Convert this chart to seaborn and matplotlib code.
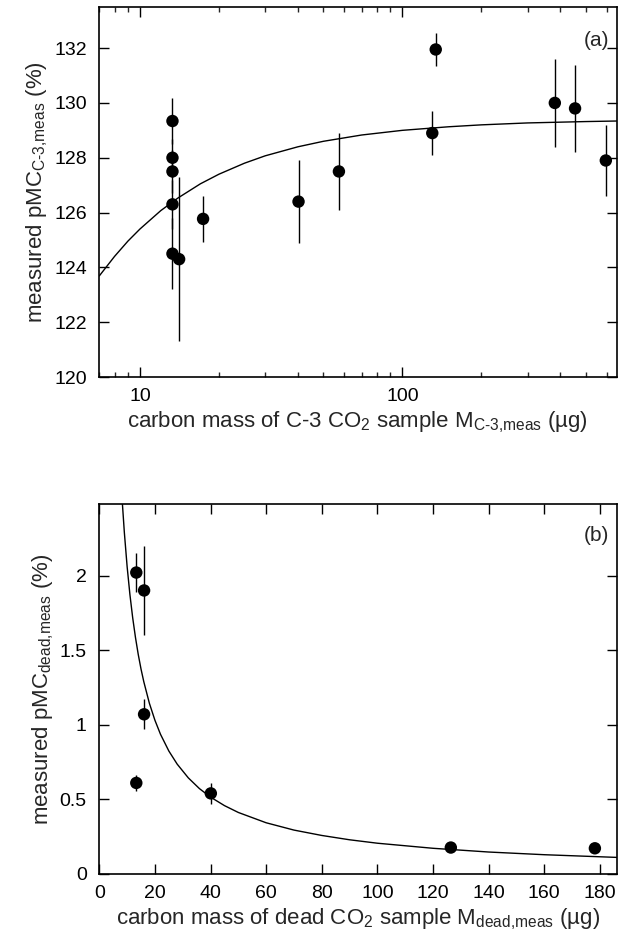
import numpy as np
import pandas as pd
import seaborn as sns
import matplotlib.pyplot as plt
from matplotlib.ticker import FixedLocator, FuncFormatter

# panel (a): C-3 CO2 samples
c3_mass = [13.3, 13.3, 13.3, 13.3, 13.3, 14.1, 17.4, 40.2, 57.3, 130, 134, 381, 455, 596]
c3_pmc = [129.34, 128.0, 127.5, 126.3, 124.5, 124.3, 125.77, 126.4, 127.5, 128.9, 131.95, 130.0, 129.8, 127.9]
c3_err = [0.85, 0.7, 0.8, 0.9, 1.3, 3.0, 0.85, 1.5, 1.4, 0.8, 0.6, 1.6, 1.6, 1.3]

# fitted curve (a)
fit_a_x = [7, 8, 9, 10, 12, 14, 17, 20, 25, 30, 40, 50, 70, 100, 150, 200, 300, 500, 655]
fit_a_y = [123.69, 124.4, 124.96, 125.4, 126.07, 126.54, 127.05, 127.4, 127.8, 128.07,
           128.4, 128.6, 128.83, 129.0, 129.13, 129.2, 129.27, 129.32, 129.34]

# panel (b): dead CO2 samples
dead_mass = [13.3, 16.1, 16.1, 13.3, 40.1, 126.4, 178.2]
dead_pmc = [2.02, 1.90, 1.07, 0.61, 0.54, 0.177, 0.172]
dead_err = [0.13, 0.30, 0.10, 0.055, 0.07, 0.0, 0.0]

# fitted curve (b)
fit_b_x = [8.3, 9, 10, 11, 12, 13, 14, 15, 16, 18, 20, 22, 25, 28, 32, 36, 40, 45, 50,
           60, 70, 80, 90, 100, 120, 140, 160, 186]
fit_b_y = [2.482, 2.289, 2.06, 1.873, 1.717, 1.585, 1.471, 1.373, 1.288, 1.144, 1.03, 0.936,
           0.824, 0.736, 0.644, 0.572, 0.515, 0.458, 0.412, 0.343, 0.294, 0.258, 0.229, 0.206,
           0.172, 0.147, 0.129, 0.111]

sns.set_style("ticks")
plt.rcParams['font.family'] = ['Liberation Sans', 'DejaVu Sans']
plt.rcParams['mathtext.fontset'] = 'custom'
plt.rcParams['mathtext.rm'] = 'Liberation Sans'
plt.rcParams['mathtext.it'] = 'Liberation Sans'
plt.rcParams['mathtext.default'] = 'regular'

fs = 14
lfs = 16
fig = plt.figure(figsize=(6.18, 9.44), dpi=100)
ax1 = fig.add_axes([0.1607, 0.6006, 0.837, 0.392])
ax2 = fig.add_axes([0.1607, 0.0742, 0.837, 0.392])

df_a = pd.DataFrame({"m": c3_mass, "p": c3_pmc})
df_fa = pd.DataFrame({"m": fit_a_x, "p": fit_a_y})
df_b = pd.DataFrame({"m": dead_mass, "p": dead_pmc})
df_fb = pd.DataFrame({"m": fit_b_x, "p": fit_b_y})

# --- (a)
ax1.set_xscale("log")
ax1.errorbar(c3_mass, c3_pmc, yerr=c3_err, fmt="none", ecolor="black", elinewidth=1.0, capsize=0)
sns.lineplot(data=df_fa, x="m", y="p", ax=ax1, color="black", lw=1.0, sort=False, estimator=None)
sns.scatterplot(data=df_a, x="m", y="p", ax=ax1, color="black", s=80, edgecolor="none", zorder=3)
ax1.set_xlim(7, 655)
ax1.set_ylim(120, 133.5)
ax1.xaxis.set_major_locator(FixedLocator([10, 100]))
ax1.xaxis.set_minor_locator(FixedLocator([7, 8, 9, 20, 30, 40, 50, 60, 70, 80, 90, 200, 300, 400, 500, 600]))
ax1.xaxis.set_major_formatter(FuncFormatter(lambda v, p: "%g" % v))
ax1.xaxis.set_minor_formatter(FuncFormatter(lambda v, p: ""))
ax1.set_yticks(np.arange(120, 133, 2))
ax1.set_xlabel(r"carbon mass of C-3 CO$_2$ sample M$_{\text{C-3,meas}}$ (µg)", fontsize=lfs, labelpad=3)
ax1.set_ylabel(r"measured pMC$_{\text{C-3,meas}}$ (%)", fontsize=lfs, labelpad=3)
ax1.text(0.985, 0.91, "(a)", transform=ax1.transAxes, ha="right", va="center", fontsize=15)

# --- (b)
ax2.errorbar(dead_mass, dead_pmc, yerr=dead_err, fmt="none", ecolor="black", elinewidth=1.0, capsize=0)
sns.lineplot(data=df_fb, x="m", y="p", ax=ax2, color="black", lw=1.0, sort=False, estimator=None)
sns.scatterplot(data=df_b, x="m", y="p", ax=ax2, color="black", s=80, edgecolor="none", zorder=3)
ax2.set_xlim(0, 186)
ax2.set_ylim(0, 2.48)
ax2.set_xticks(np.arange(0, 181, 20))
ax2.set_yticks([0, 0.5, 1, 1.5, 2])
ax2.yaxis.set_major_formatter(FuncFormatter(lambda v, p: "%g" % v))
ax2.set_xlabel(r"carbon mass of dead CO$_2$ sample M$_{\text{dead,meas}}$ (µg)", fontsize=lfs, labelpad=3)
ax2.set_ylabel(r"measured pMC$_{\text{dead,meas}}$ (%)", fontsize=lfs, labelpad=3)
ax2.text(0.985, 0.915, "(b)", transform=ax2.transAxes, ha="right", va="center", fontsize=15)

for ax in (ax1, ax2):
    for sp in ax.spines.values():
        sp.set_visible(True)
        sp.set_linewidth(1.2)
        sp.set_color("black")
    ax.tick_params(which="major", direction="in", length=7, width=1.0, top=True, right=True,
                   labelsize=fs, colors="black")
    ax.tick_params(axis="y", which="major", pad=9)
    ax.tick_params(axis="x", which="major", pad=8)
    ax.tick_params(which="minor", direction="in", length=3.5, width=1.0, top=True, right=True)

fig.savefig("out.png", dpi=100)
